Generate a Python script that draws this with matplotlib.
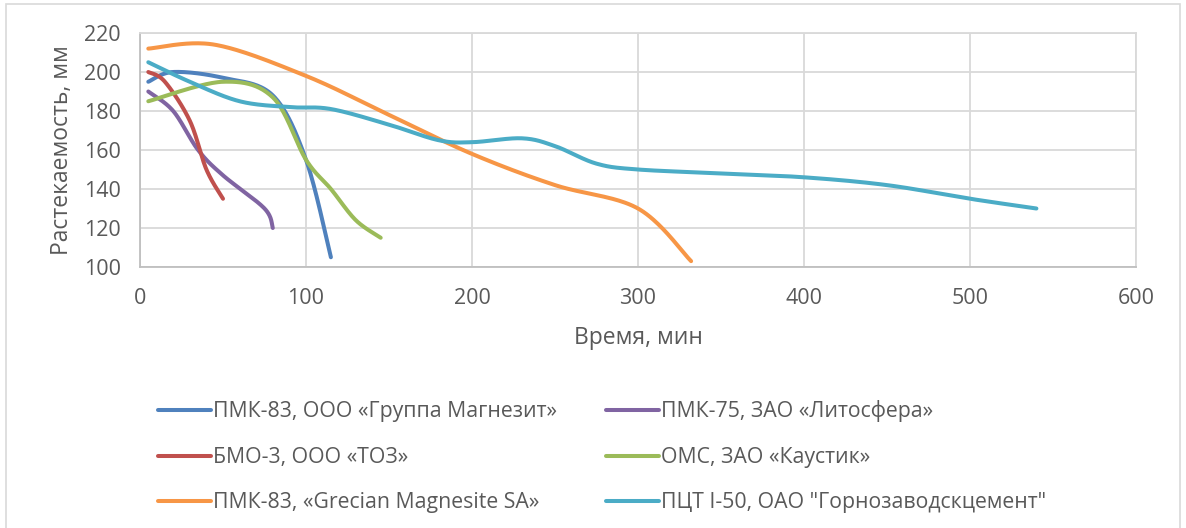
import numpy as np
import matplotlib
matplotlib.use('Agg')
import matplotlib.pyplot as plt
from matplotlib.patches import Rectangle

plt.rcParams['font.family'] = ['Open Sans', 'DejaVu Sans']

# spreadability over time for each binder
labels = ['ПМК-83, ООО «Группа Магнезит»',
          'ПМК-75, ЗАО «Литосфера»',
          'БМО-3, ООО «ТОЗ»',
          'ОМС, ЗАО «Каустик»',
          'ПМК-83, «Grecian Magnesite SA»',
          'ПЦТ I-50, ОАО "Горнозаводскцемент"']

t_pmk83 = [5, 20, 50, 80, 100, 115]
d_pmk83 = [195, 200, 197, 188, 155, 105]

t_pmk75 = [5, 20, 35, 50, 75, 80]
d_pmk75 = [190, 180, 160, 147, 130, 120]

t_bmo = [5, 15, 30, 40, 50]
d_bmo = [200, 195, 175, 150, 135]

t_oms = [5, 50, 80, 100, 115, 130, 145]
d_oms = [185, 195, 187, 155, 140, 124, 115]

t_grec = [5, 45, 100, 150, 200, 250, 300, 332]
d_grec = [212, 214, 198, 178, 158, 142, 130, 103]

t_pct = [5, 30, 60, 90, 115, 150, 180, 200, 230, 250, 275, 300, 350, 400, 450, 500, 540]
d_pct = [205, 195, 185, 182, 181, 173, 165, 164, 166, 162, 153, 150, 148, 146, 142, 135, 130]

colors = ['#4F81BD', '#8064A2', '#C0504D', '#9BBB59', '#F79646', '#4BACC6']


def smooth(x, y, n=40):
    # excel-style smoothed line: bezier segments through the points
    x = np.asarray(x, float)
    y = np.asarray(y, float)
    p = np.column_stack([x, y])
    ext = np.vstack([p[0], p, p[-1]])
    out = []
    s = np.linspace(0, 1, n)[:, None]
    for i in range(len(p) - 1):
        p0, p3 = ext[i + 1], ext[i + 2]
        p1 = p0 + (ext[i + 2] - ext[i]) / 6
        p2 = p3 - (ext[i + 3] - ext[i + 1]) / 6
        seg = ((1 - s) ** 3) * p0 + 3 * ((1 - s) ** 2) * s * p1 + 3 * (1 - s) * s ** 2 * p2 + s ** 3 * p3
        out.append(seg)
    out = np.vstack(out)
    return out[:, 0], out[:, 1]


fig = plt.figure(figsize=(11.86, 5.28), dpi=100)
fig.patches.append(Rectangle((6 / 1186, -0.02), 1174 / 1186, 1 - 4 / 528 + 0.02,
                             transform=fig.transFigure, fill=False,
                             edgecolor='#D9D9D9', linewidth=1.2))

ax = fig.add_axes([140 / 1186, 1 - 267 / 528, 996 / 1186, 234 / 528])

series = [(t_pmk83, d_pmk83), (t_pmk75, d_pmk75), (t_bmo, d_bmo),
          (t_oms, d_oms), (t_grec, d_grec), (t_pct, d_pct)]
lines = []
for (t, d), c, lab in zip(series, colors, labels):
    xs, ys = smooth(t, d)
    ln, = ax.plot(xs, ys, color=c, linewidth=2.9, label=lab,
                  solid_capstyle='round')
    lines.append(ln)

ax.set_xlim(0, 600)
ax.set_ylim(100, 220)
ax.set_xticks(range(0, 601, 100))
ax.set_yticks(range(100, 221, 20))
ax.grid(True, color='#D9D9D9', linewidth=1.3)
ax.set_axisbelow(True)
for side in ['top', 'right']:
    ax.spines[side].set_color('#D9D9D9')
    ax.spines[side].set_linewidth(1.3)
for side in ['left', 'bottom']:
    ax.spines[side].set_color('#BFBFBF')
    ax.spines[side].set_linewidth(1.3)
ax.tick_params(length=0, labelsize=15.5, colors='#595959')
ax.tick_params(axis='y', pad=14)
ax.tick_params(axis='x', pad=15)

ax.set_xlabel('Время, мин', fontsize=16.5, color='#595959', labelpad=12)
ax.set_ylabel('Растекаемость, мм', fontsize=16.5, color='#595959', labelpad=7)

# legend fills column by column
order = [0, 2, 4, 1, 3, 5]
fig.legend([lines[i] for i in order], [labels[i] for i in order],
           ncol=2, loc='upper left', bbox_to_anchor=(149 / 1186, 1 - 392 / 528),
           frameon=False, fontsize=15.3, labelcolor='#595959',
           handlelength=2.5, handletextpad=0.1, columnspacing=2.3,
           labelspacing=1.15, borderaxespad=0)

fig.savefig('out.png', dpi=100)
